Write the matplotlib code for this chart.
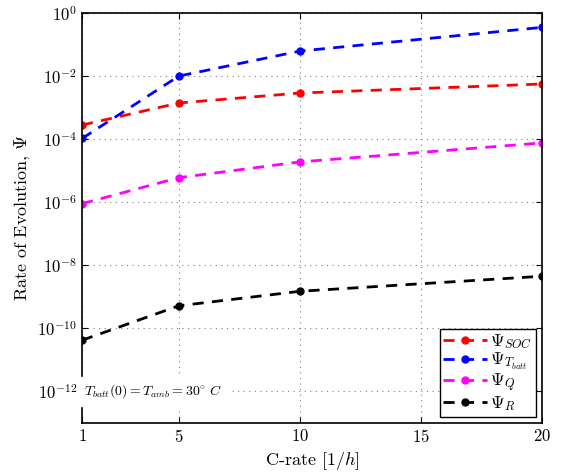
import matplotlib
matplotlib.use("Agg")
import matplotlib.pyplot as plt

plt.rcParams['font.family'] = 'serif'
plt.rcParams['font.serif'] = ['cmr10', 'DejaVu Serif']
plt.rcParams['mathtext.fontset'] = 'cm'
plt.rcParams['axes.formatter.use_mathtext'] = True

# C-rate values and rates of evolution
c_rate = [1, 5, 10, 20]
psi_soc = [2.8e-4, 1.4e-3, 2.9e-3, 5.6e-3]
psi_tbatt = [1.05e-4, 1.0e-2, 6.2e-2, 3.5e-1]
psi_q = [9e-7, 6e-6, 1.9e-5, 7.6e-5]
psi_r = [4.2e-11, 5.2e-10, 1.5e-9, 4.5e-9]

series = [
    (psi_soc, 'red', r'$\Psi_{SOC}$'),
    (psi_tbatt, 'blue', r'$\Psi_{T_{batt}}$'),
    (psi_q, 'magenta', r'$\Psi_Q$'),
    (psi_r, 'black', r'$\Psi_R$'),
]

x_ticks = [1, 5, 10, 15, 20]
y_ticks = [1e-12, 1e-10, 1e-8, 1e-6, 1e-4, 1e-2, 1e0]

fig = plt.figure(figsize=(5.64, 4.74), dpi=100)
ax = fig.add_axes([0.1454, 0.1076, 0.8156, 0.865])

for vals, col, lab in series:
    ax.semilogy(c_rate, vals, '--', color=col, lw=2, marker='o', ms=5,
                dashes=(4, 3), label=lab)

ax.set_xlim(1, 20)
ax.set_ylim(1e-13, 1e0)
ax.set_xticks(x_ticks)
ax.set_yticks(y_ticks)
ax.minorticks_off()
ax.tick_params(direction='in', labelsize=12, length=4, top=True, right=True)
ax.grid(True, linestyle=(0, (1, 4)), color='gray', lw=0.8)
for s in ax.spines.values():
    s.set_linewidth(1.2)

ax.set_xlabel(r'C-rate $[1/h]$', fontsize=13)
ax.set_ylabel(r'Rate of Evolution, $\Psi$', fontsize=13)

ax.text(1.1, 1e-12, r'$T_{batt}(0) = T_{amb} = 30^{\circ}\ C$', fontsize=10,
        va='center', ha='left', backgroundcolor='white')

leg = ax.legend(loc='lower right', fontsize=12.5, fancybox=False, framealpha=1,
                edgecolor='black', handlelength=2.5, borderaxespad=0.35,
                labelspacing=0.0, borderpad=0.2, handletextpad=0.2)
leg.get_frame().set_linewidth(1.0)

fig.savefig('out.png', dpi=100)
